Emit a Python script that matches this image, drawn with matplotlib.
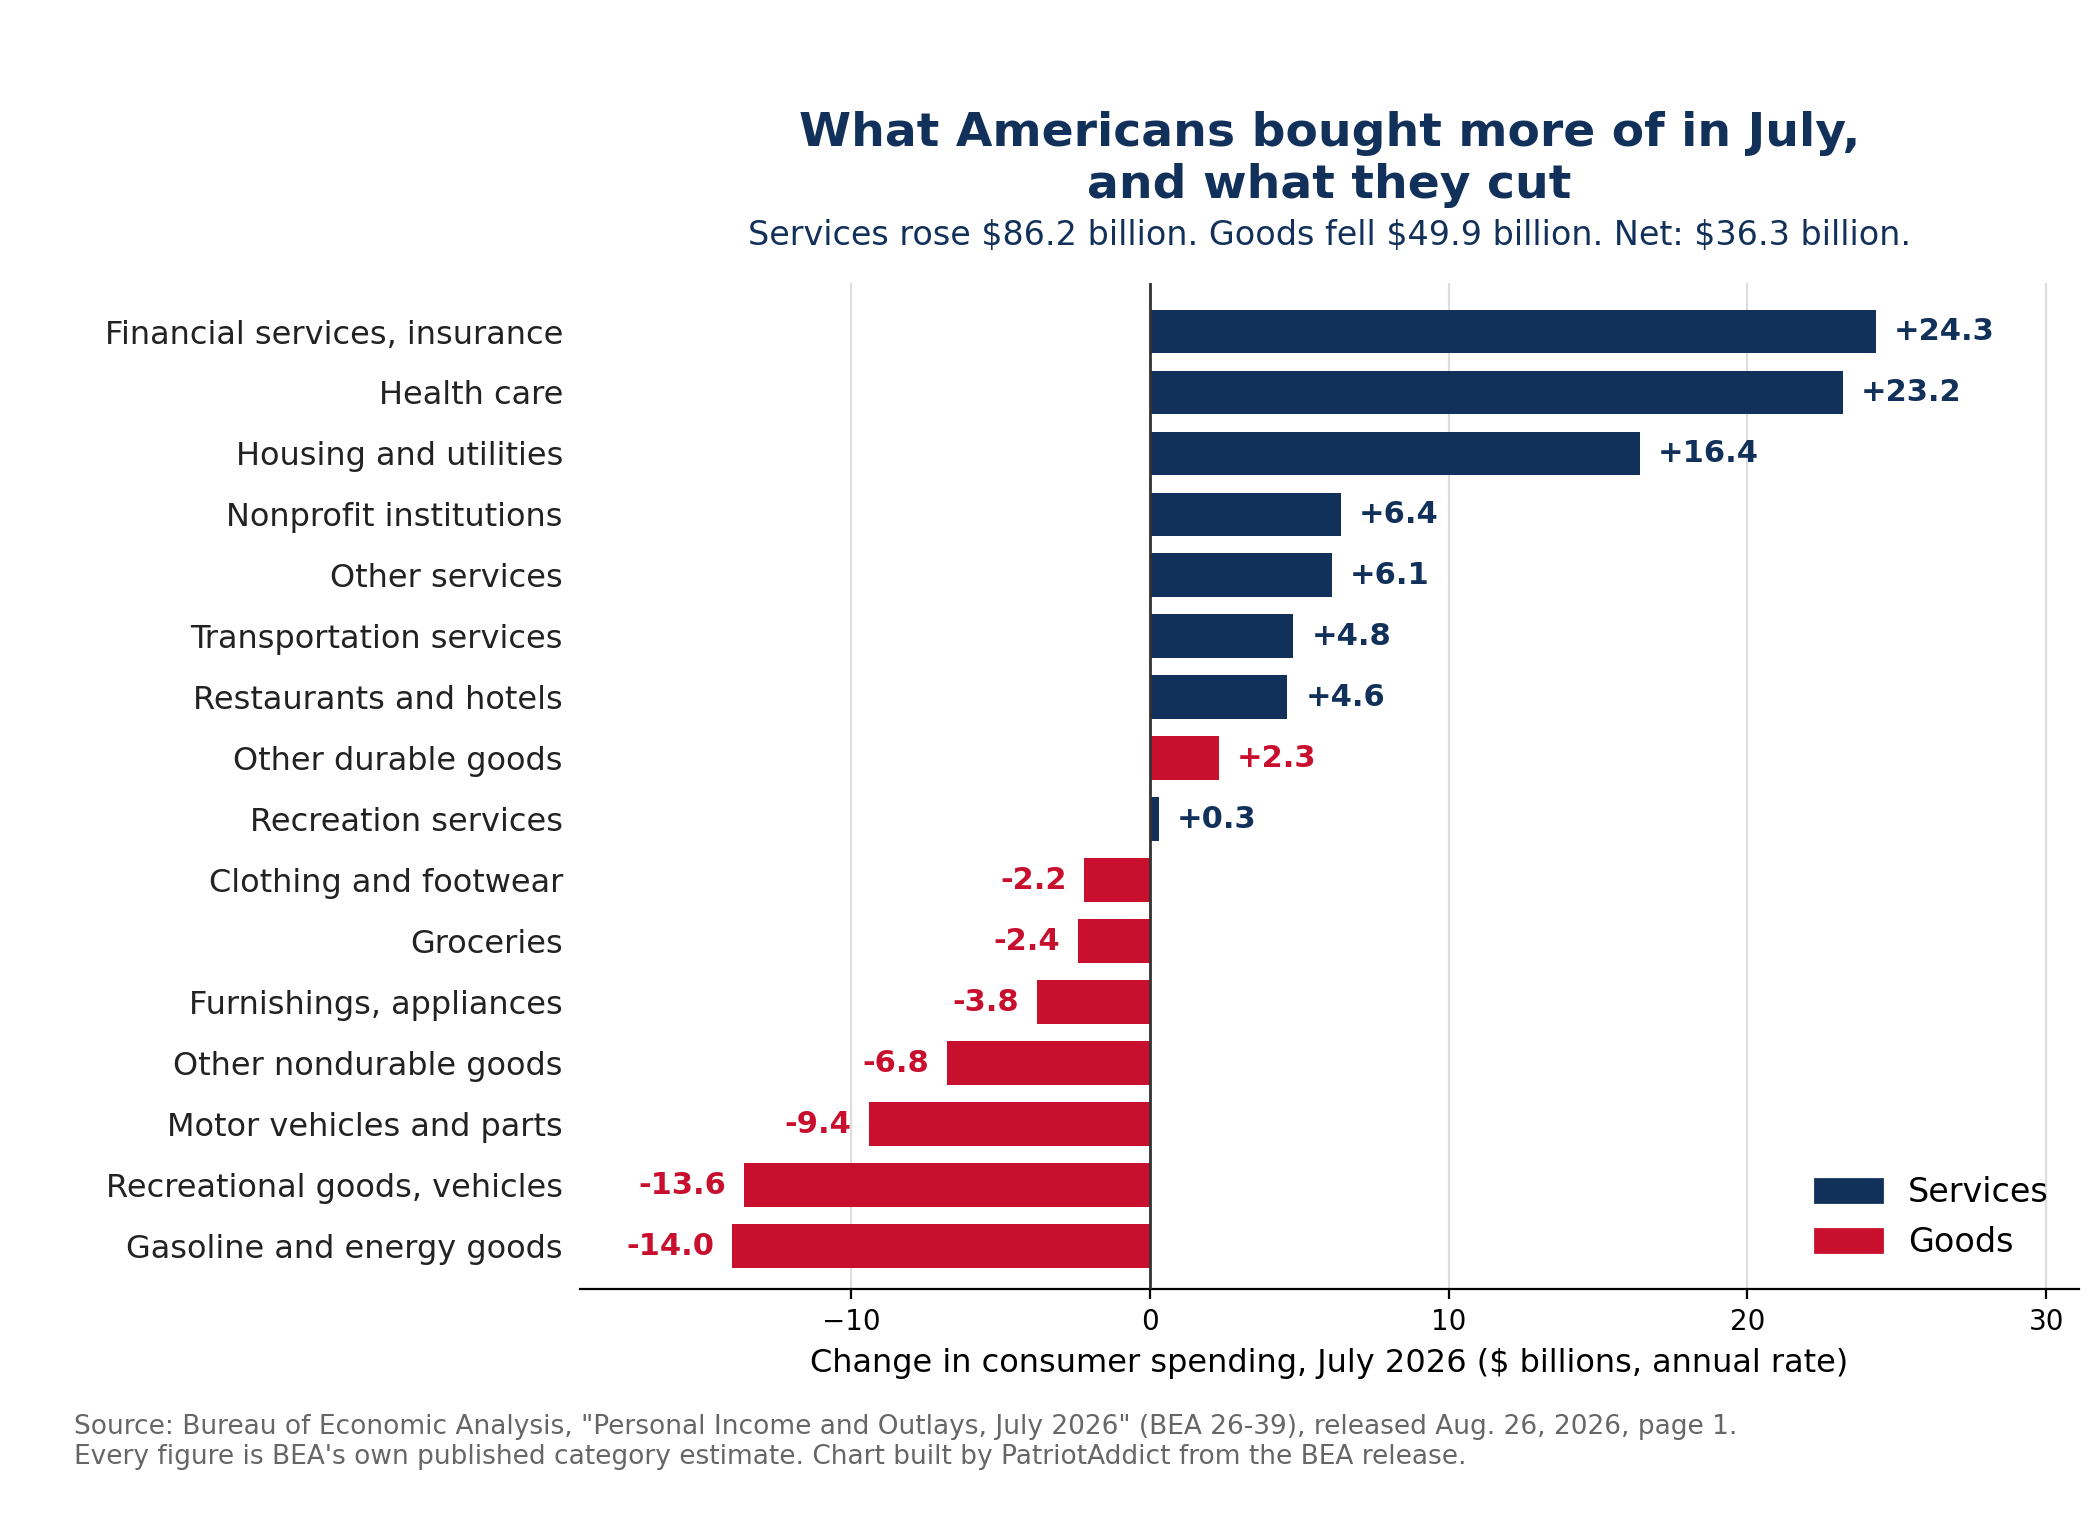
import matplotlib.pyplot as plt
from matplotlib.patches import Patch

categories = ["Financial services, insurance", "Health care", "Housing and utilities",
              "Nonprofit institutions", "Other services", "Transportation services",
              "Restaurants and hotels", "Other durable goods", "Recreation services",
              "Clothing and footwear", "Groceries", "Furnishings, appliances",
              "Other nondurable goods", "Motor vehicles and parts",
              "Recreational goods, vehicles", "Gasoline and energy goods"]
values = [24.3, 23.2, 16.4, 6.4, 6.1, 4.8, 4.6, 2.3, 0.3, -2.2, -2.4, -3.8, -6.8, -9.4, -13.6, -14.0]
kinds = ["S", "S", "S", "S", "S", "S", "S", "G", "S", "G", "G", "G", "G", "G", "G", "G"]

NAVY = "#12315a"
RED = "#c8102e"
colors = [NAVY if k == "S" else RED for k in kinds]

fig = plt.figure(figsize=(10.5, 7.6), dpi=200)
ax = fig.add_axes([0.276, 0.152, 0.714, 0.662])

y = list(range(len(categories)))
ax.barh(y, values, color=colors, height=0.72, zorder=3)
ax.set_yticks(y)
ax.set_yticklabels(categories, fontsize=11.5, color="#222222")
ax.invert_yaxis()
ax.set_ylim(len(categories) - 0.3, -0.8)
ax.set_xlim(-19.1, 31.1)
ax.set_xticks([-10, 0, 10, 20, 30])
ax.tick_params(axis="x", labelsize=10)
ax.tick_params(axis="y", length=0, pad=6)
ax.grid(axis="x", color="#dddddd", linewidth=0.8, zorder=0)
ax.axvline(0, color="#333333", linewidth=1.0, zorder=4)
for s in ["top", "right", "left"]:
    ax.spines[s].set_visible(False)

for yi, v, c in zip(y, values, colors):
    if v >= 0:
        ax.text(v + 0.6, yi, f"+{v:.1f}", va="center", ha="left", color=c,
                fontsize=11, fontweight="bold")
    else:
        ax.text(v - 0.6, yi, f"{v:.1f}", va="center", ha="right", color=c,
                fontsize=11, fontweight="bold")

ax.set_xlabel("Change in consumer spending, July 2026 ($ billions, annual rate)", fontsize=11.5)
ax.legend(handles=[Patch(color=NAVY, label="Services"), Patch(color=RED, label="Goods")],
          loc="lower right", frameon=False, fontsize=12)

fig.text(0.633, 0.895, "What Americans bought more of in July,\nand what they cut", ha="center",
         va="center", fontsize=17, fontweight="bold", color=NAVY, linespacing=1.2)
fig.text(0.633, 0.845, "Services rose $86.2 billion. Goods fell $49.9 billion. Net: $36.3 billion.",
         ha="center", va="center", fontsize=12, color=NAVY)
fig.text(0.035, 0.033, 'Source: Bureau of Economic Analysis, "Personal Income and Outlays, July 2026" (BEA 26-39), released Aug. 26, 2026, page 1.\n'
         "Every figure is BEA's own published category estimate. Chart built by PatriotAddict from the BEA release.",
         ha="left", va="bottom", fontsize=9.5, color="#666666")

fig.savefig("out.png", dpi=200)
